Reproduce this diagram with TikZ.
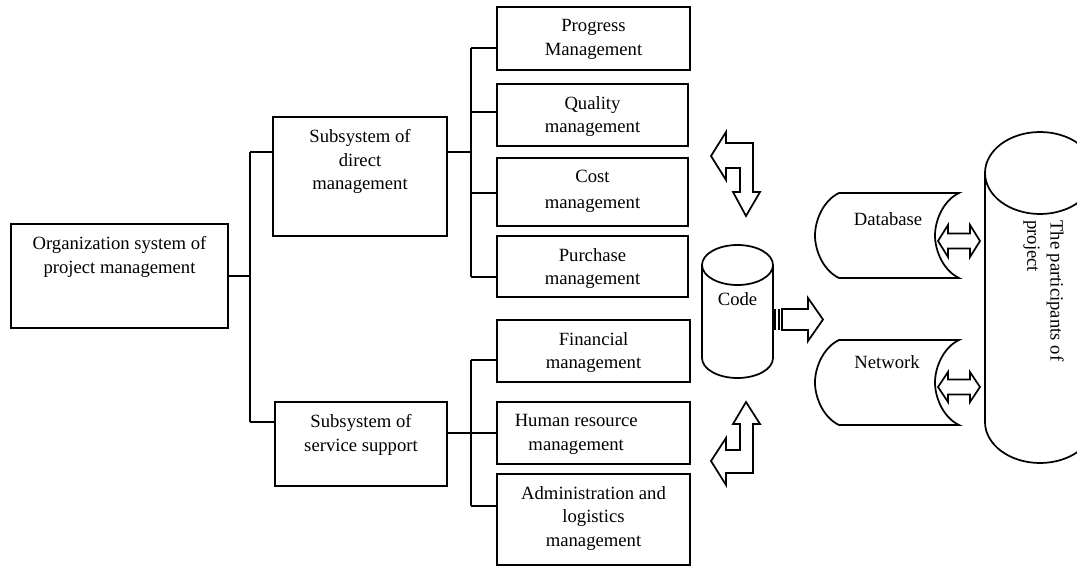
\documentclass[tikz,border=0pt]{standalone}
\usepackage{fontspec}
\setmainfont{Liberation Serif}
\usetikzlibrary{calc}
\tikzset{
  ln/.style={line width=1.3pt, line join=miter},
  box/.style={draw, line width=1.3pt, anchor=north west, inner sep=0pt, outer sep=0pt},
  area/.style={anchor=north west, inner sep=0pt, outer sep=0pt},
  lbl/.style={anchor=north, inner sep=0pt, align=center, yshift=-9.2pt}
}
\begin{document}
\begin{tikzpicture}[x=0.75pt, y=-0.75pt, font=\fontsize{14}{17.5}\selectfont]
\fill[white] (0,0) rectangle (1077,567);
\useasboundingbox (0,0) rectangle (1077,567);

\node[box, minimum width=162.75pt, minimum height=78pt, label={[lbl]north:{Organization system of\\project management}}] (org) at (11,224) {};
\node[box, minimum width=130.5pt, minimum height=89.25pt, label={[lbl]north:{Subsystem of\\direct\\management}}] (direct) at (273,117) {};
\node[box, minimum width=129pt, minimum height=63pt, label={[lbl]north:{Subsystem of\\service support}}] (service) at (275,402) {};

\node[box, minimum width=144.75pt, minimum height=47.25pt, label={[lbl]north:{Progress\\Management}}] (prog) at (497,7) {};
\node[box, minimum width=143.25pt, minimum height=46.5pt, label={[lbl]north:{Quality\\management}}] (qual) at (497,84) {};
\node[box, minimum width=143.25pt, minimum height=51pt, label={[lbl]north:{Cost\\[1.5pt]management}}] (cost) at (497,158) {};
\node[box, minimum width=143.25pt, minimum height=45.75pt, label={[lbl]north:{Purchase\\management}}] (purch) at (497,236) {};
\node[box, minimum width=144.75pt, minimum height=46.5pt, label={[lbl]north:{Financial\\management}}] (fin) at (497,320) {};
\node[box, minimum width=144.75pt, minimum height=46.5pt, label={[lbl, xshift=-13pt]north:{Human resource\\management}}] (hum) at (497,402) {};
\node[box, minimum width=144.75pt, minimum height=68.25pt, label={[lbl]north:{Administration and\\logistics\\management}}] (admin) at (497,474) {};

\node[area, minimum width=53.25pt, minimum height=99.75pt, label={[lbl, yshift=-26.25pt]north:Code}] (code) at (702,245) {};
\node[area, minimum width=90pt, minimum height=63.75pt, label={[lbl, xshift=-8.25pt, yshift=-5.25pt]north:Database}] (db) at (839,193) {};
\node[area, minimum width=90pt, minimum height=63.75pt, label={[lbl, xshift=-9pt, yshift=-2.25pt]north:Network}] (net) at (839,340) {};
\node[area, minimum width=82.5pt, minimum height=248.25pt] (part) at (985,132) {};
\node[rotate=-90, anchor=north west, align=left, inner sep=0pt] (partT) at (1064,220) {The participants of\\project};

\coordinate (bA) at (250,152);
\coordinate (bB) at (250,422);
\coordinate (dA) at (471,48);
\coordinate (dQ) at (471,112);
\coordinate (dC) at (471,193);
\coordinate (dB) at (471,277);
\coordinate (sA) at (471,360);
\coordinate (sB) at (471,506);

\draw[ln] (org.east) -- (org.east -| bA);
\draw[ln] (bA) -- (bB);
\draw[ln] (bA) -- (bA -| direct.west);
\draw[ln] (bB) -- (bB -| service.west);

\draw[ln] (bA -| direct.east) -- (bA -| dA);
\draw[ln] (dA) -- (dB);
\draw[ln] (dA) -- (dA -| prog.west);
\draw[ln] (dQ) -- (dQ -| qual.west);
\draw[ln] (dC) -- (dC -| cost.west);
\draw[ln] (dB) -- (dB -| purch.west);

\draw[ln] (service.east |- hum.west) -- (hum.west);
\draw[ln] (sA) -- (sB);
\draw[ln] (sA) -- (sA -| fin.west);
\draw[ln] (sB) -- (sB -| admin.west);

\draw[ln] ([yshift=-15pt]code.north) ellipse [x radius=26.625pt, y radius=15pt];
\draw[ln] ([yshift=-15pt]code.north west) -- ([yshift=15pt]code.south west)
  arc[start angle=180, end angle=360, x radius=26.625pt, y radius=15pt] -- ([yshift=-15pt]code.north east);

\draw[ln] ([yshift=-30.75pt]part.north) ellipse [x radius=41.25pt, y radius=30.75pt];
\draw[ln] ([yshift=-30.75pt]part.north west) -- ([yshift=30.75pt]part.south west)
  arc[start angle=180, end angle=360, x radius=41.25pt, y radius=30.75pt] -- ([yshift=-30.75pt]part.north east);

\draw[ln] (db.north west) -- (db.north east)
  .. controls +(-15,7) and +(0,-16) .. ([xshift=-18pt]db.east)
  .. controls +(0,16) and +(-15,-7) .. (db.south east) -- (db.south west)
  .. controls +(-15,-7) and +(0,16) .. ([xshift=-18pt]db.west)
  .. controls +(0,-16) and +(-15,7) .. cycle;
\draw[ln] (net.north west) -- (net.north east)
  .. controls +(-15,7) and +(0,-16) .. ([xshift=-18pt]net.east)
  .. controls +(0,16) and +(-15,-7) .. (net.south east) -- (net.south west)
  .. controls +(-15,-7) and +(0,16) .. ([xshift=-18pt]net.west)
  .. controls +(0,-16) and +(-15,7) .. cycle;

\draw[ln] (711,156) -- (726,132) -- (726,143) -- (753,143) -- (753,192) -- (760,192) -- (746,216)
  -- (733,192) -- (740,192) -- (740,168) -- (726,168) -- (726,180) -- cycle;
\draw[ln] (746,402) -- (760,424) -- (753,424) -- (753,473) -- (726,473) -- (726,485) -- (711,461)
  -- (726,438) -- (726,450) -- (740,450) -- (740,424) -- (733,424) -- cycle;

\fill (773,309) rectangle (776,330);
\fill (777.5,309) rectangle (780,330);
\draw[ln] (782,309) -- (808,309) -- (808,298) -- (823,319.5) -- (808,341) -- (808,330) -- (782,330) -- cycle;

\draw[ln] (938,241) -- (948,225) -- (948,233.5) -- (970,233.5) -- (970,225) -- (980,241)
  -- (970,257) -- (970,248.5) -- (948,248.5) -- (948,257) -- cycle;
\draw[ln] (938,387) -- (948,372) -- (948,379.5) -- (970,379.5) -- (970,372) -- (980,387)
  -- (970,402) -- (970,394.5) -- (948,394.5) -- (948,402) -- cycle;
\end{tikzpicture}
\end{document}
